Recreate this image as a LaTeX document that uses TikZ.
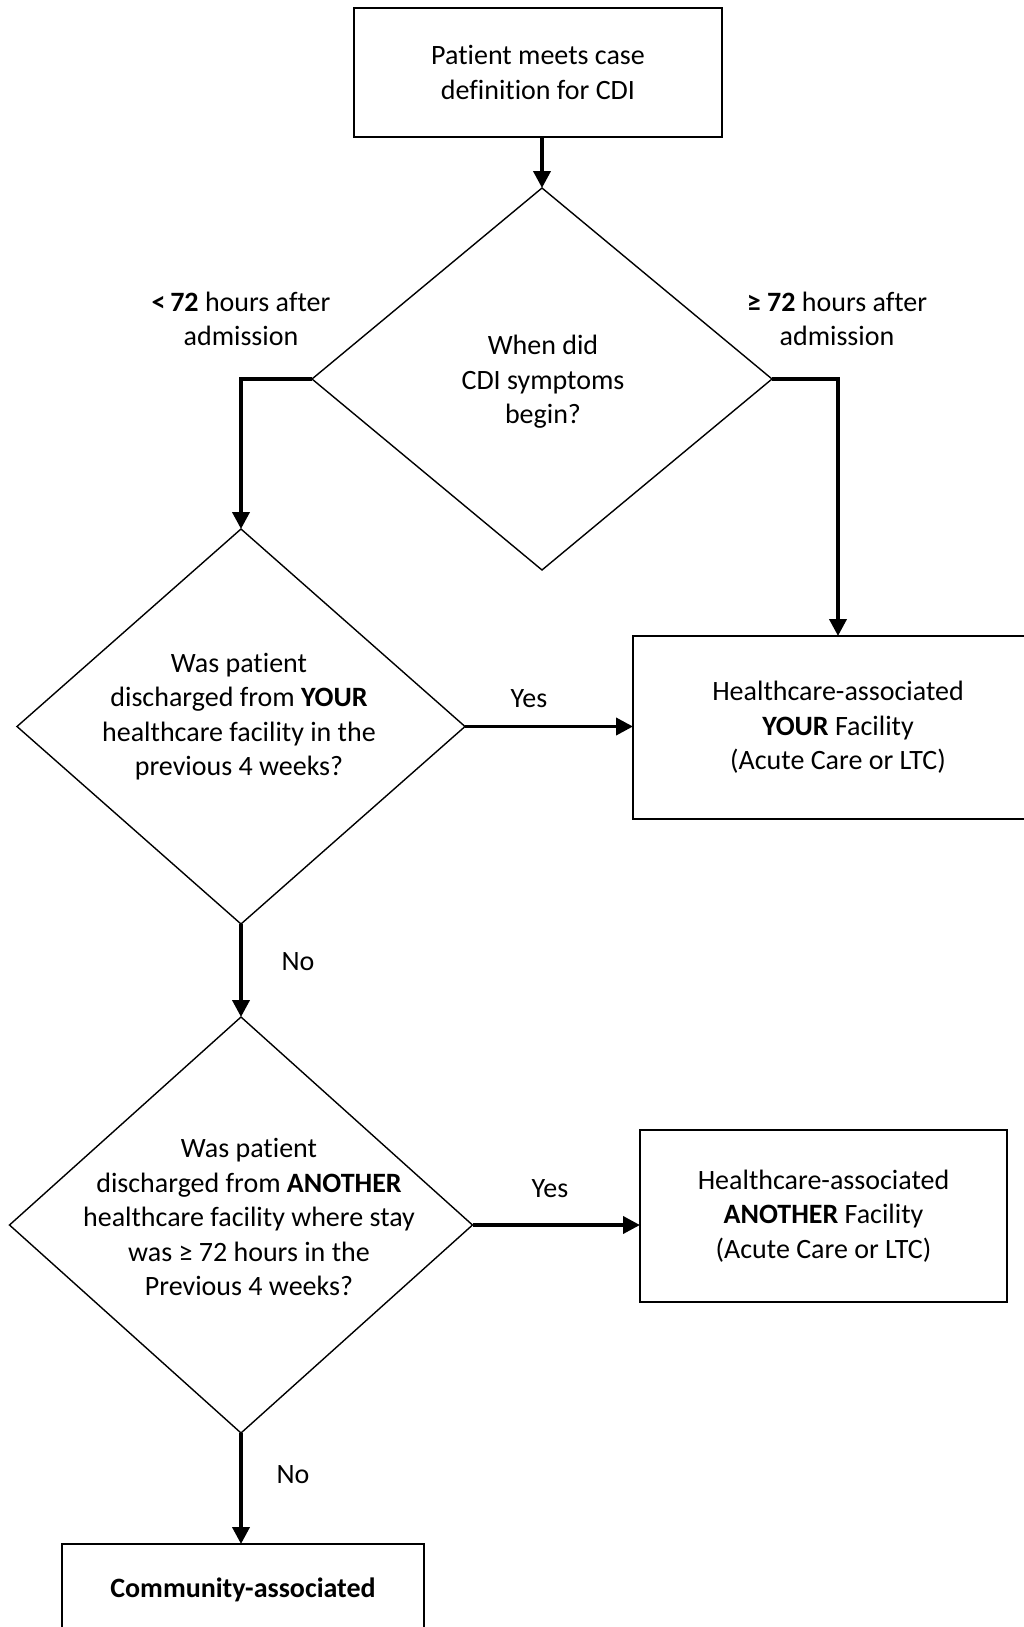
\documentclass[tikz,border=0pt]{standalone}
\usepackage{fontspec}
\setmainfont{Carlito}[Ligatures={NoCommon,NoContextual},Contextuals={NoAlternate}]
\usetikzlibrary{shapes.geometric,arrows.meta}
\tikzset{
  shape line/.style={draw=black,line width=1.4pt},
  txt/.style={font=\fontsize{28}{34.5}\selectfont,align=center,inner sep=0pt,outer sep=0pt},
  boxnode/.style={shape line,txt,rectangle,outer sep=0pt},
  decision/.style={shape line,diamond,inner sep=0pt,outer sep=0pt},
  conn/.style={line width=3.8pt,-{Triangle[length=17pt,width=17pt]}}
}
\begin{document}
\begin{tikzpicture}[x=1pt,y=-1pt]
\useasboundingbox (0,0) rectangle (1024,1627);
\clip (0,0) rectangle (1024,1627);
\fill[white] (0,0) rectangle (1024,1627);

% boxes
\node[boxnode,minimum width=368pt,minimum height=129pt] (b1) at (538,72.5) {Patient meets case\\definition for CDI};
\node[boxnode,minimum width=410pt,minimum height=183pt] (b2) at (838,727.5) {Healthcare-associated\\\textbf{YOUR} Facility\\(Acute Care or LTC)};
\node[boxnode,minimum width=367pt,minimum height=172pt] (b3) at (823.5,1216) {Healthcare-associated\\\textbf{ANOTHER} Facility\\(Acute Care or LTC)};
\node[boxnode,minimum width=362pt,minimum height=92pt] (b4) at (243,1590) {\textbf{Community-associated}};

% decisions
\node[decision,minimum width=460pt,minimum height=382pt] (d1) at (542,379) {};
\node[txt] (d1t) at (543,382) {When did\\CDI symptoms\\begin?};
\node[decision,minimum width=448pt,minimum height=395pt] (d2) at (241,726.5) {};
\node[txt] (d2t) at (239,716.5) {Was patient\\discharged from \textbf{YOUR}\\healthcare facility in the\\previous 4 weeks?};
\node[decision,minimum width=463pt,minimum height=416pt] (d3) at (241,1225) {};
\node[txt] (d3t) at (249,1217) {Was patient\\discharged from \textbf{ANOTHER}\\healthcare facility where stay\\was ≥ 72 hours in the\\Previous 4 weeks?};

% labels
\node[txt] (l1) at (241,319) {\textbf{<\,72} hours after\\admission};
\node[txt] (l2) at (837,319) {\textbf{≥ 72} hours after\\admission};
\node[txt] (y1) at (529,699) {Yes};
\node[txt] (n1) at (298,962) {No};
\node[txt] (y2) at (550,1189) {Yes};
\node[txt] (n2) at (293,1475) {No};

% connectors
\draw[conn] (b1.south -| d1.north) -- (d1.north);
\draw[conn] (d1.west) -- (d1.west -| d2.north) -- (d2.north);
\draw[conn] (d1.east) -- (d1.east -| b2.north) -- (b2.north);
\draw[conn] (d2.east) -- (d2.east -| b2.west);
\draw[conn] (d2.south) -- (d3.north);
\draw[conn] (d3.east) -- (d3.east -| b3.west);
\draw[conn] (d3.south) -- (d3.south |- b4.north);
\end{tikzpicture}
\end{document}
